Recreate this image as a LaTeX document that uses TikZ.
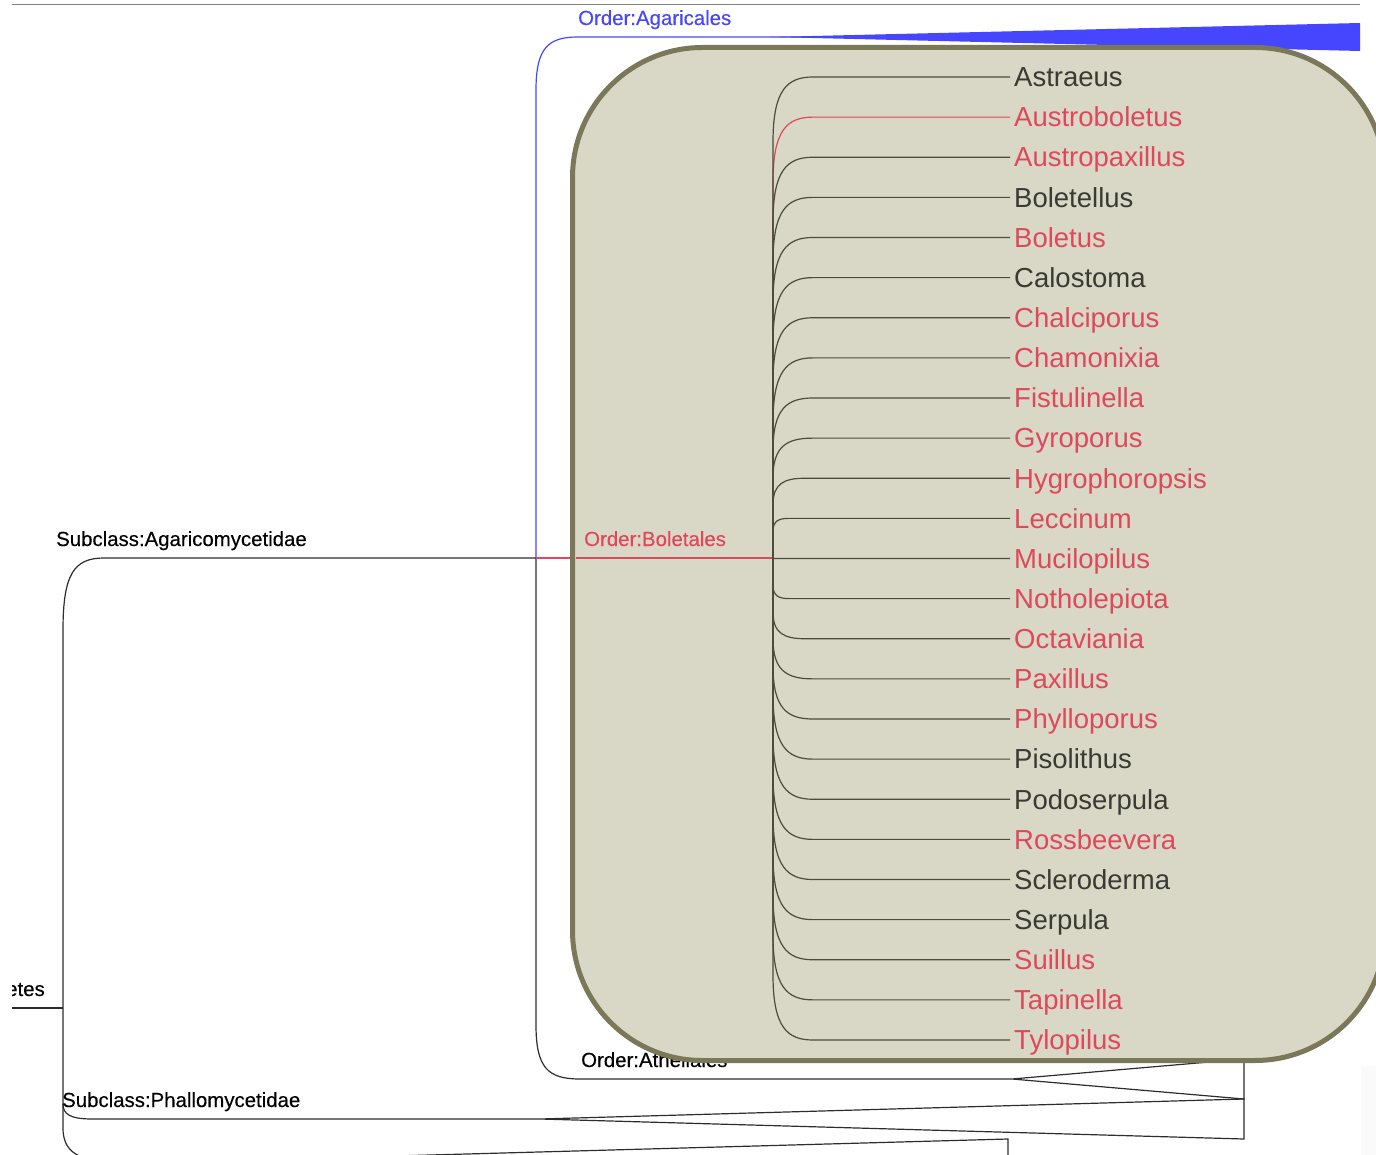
\documentclass[tikz,border=0pt]{standalone}
\usepackage{fontspec}
\setmainfont{Liberation Sans}
\newfontfamily\labfont[FakeBold=0.3]{Liberation Sans}
\usetikzlibrary{calc}
\definecolor{blu}{RGB}{70,70,255}
\definecolor{rd}{RGB}{222,72,90}
\definecolor{dk}{RGB}{58,58,52}
\definecolor{boxfill}{RGB}{217,216,198}
\definecolor{boxline}{RGB}{122,120,88}
\definecolor{ln}{RGB}{45,45,45}
\definecolor{brl}{RGB}{75,75,62}
\definecolor{topgray}{RGB}{130,130,130}
\tikzset{
  outerline/.style={draw=ln, line width=1.2pt},
  brline/.style={draw=brl, line width=1.2pt},
  redline/.style={draw=rd, line width=1.2pt},
  blueline/.style={draw=blu, line width=1.2pt},
  inlabel/.style={inner sep=0pt, anchor=base west, font=\labfont\fontsize{20.4}{24}\selectfont},
  leaflabel/.style={inner xsep=4pt, inner ysep=0pt, anchor=west, text height=19.5pt, text depth=0pt, font=\fontsize{27.5}{30}\selectfont},
  clade/.style={fill=boxfill, draw=boxline, line width=5pt, rounded corners=130pt},
}
\begin{document}
\begin{tikzpicture}[x=1pt,y=-1pt]
\useasboundingbox (0,0) rectangle (1376,1155);
\begin{scope}
\clip (12,0) rectangle (1376,1155);
% faint strip at right
\fill[black!2] (1361,1066) rectangle (1376,1155);
% top line
\draw[topgray, line width=1.5pt] (10,4.5) -- (1360,4.5);

% named junctions
\coordinate (root) at (63,1008);
\coordinate (agjun) at (536,558);
\coordinate (boleroot) at (773,558);
\coordinate (atheapex) at (1012,1079);
\coordinate (phalapex) at (540,1119);
\coordinate (wedgeA) at (1244,1059);
\coordinate (wedgeM) at (1244,1099);
\coordinate (wedgeB) at (1244,1139);
\coordinate (lowapex) at (250,1160);
\coordinate (lowend) at (1008,1139);
\coordinate (agarapex) at (770,37);

% class label (clipped at the left edge, as in the reference)
\node[inlabel, anchor=base east] (classlab) at (45,996) {Class:Agaricomycetes};
\coordinate (classend) at (12,1008);
\draw[outerline] (classend) -- (root);

% root branches
\draw[outerline] (root) -- (63,630) .. controls (63,574) and (74,558) .. (104,558) -- (agjun);
\draw[outerline] (root) -- (63,1104) .. controls (63,1114) and (70,1119) .. (92,1119) -- (phalapex) -- (wedgeM) -- (wedgeB) -- (phalapex);
\draw[outerline] (63,1104) -- (63,1128) .. controls (63,1148) and (74,1160) .. (104,1160) -- (lowapex) -- (lowend) -- (1008,1170);

% Agaricomycetidae subtree
\draw[outerline] (agjun) -- (536,1025) .. controls (536,1068) and (548,1079) .. (580,1079) -- (atheapex) -- (wedgeA) -- (wedgeM) -- (atheapex);
\draw[blueline] (agjun) -- (536,90) .. controls (536,48) and (548,37) .. (578,37) -- (860,37);
\fill[blu] (agarapex) -- (1360,23) -- (1360,51) -- cycle;
\draw[redline] (agjun) -- (580,558);

% labels outside box
\node[inlabel, text=blu] (agarlab) at (578,25) {Order:Agaricales};
\node[inlabel] (subA) at (56,546) {Subclass:Agaricomycetidae};
\node[inlabel] (athel) at (581,1067) {Order:Atheliales};
\node[inlabel] (subP) at (62,1107) {Subclass:Phallomycetidae};

% Boletales box
\draw[clade] (572.5,47.5) rectangle (1385,1060.5);
\draw[redline] (576,558) -- (boleroot);
\node[inlabel, text=rd] (bolelab) at (584,546) {Order:Boletales};

% leaf labels
\foreach \n/\c [count=\i from 0] in {Astraeus/dk, Austroboletus/rd, Austropaxillus/rd, Boletellus/dk, Boletus/rd, Calostoma/dk, Chalciporus/rd, Chamonixia/rd, Fistulinella/rd, Gyroporus/rd, Hygrophoropsis/rd, Leccinum/rd, Mucilopilus/rd, Notholepiota/rd, Octaviania/rd, Paxillus/rd, Phylloporus/rd, Pisolithus/dk, Podoserpula/dk, Rossbeevera/rd, Scleroderma/dk, Serpula/dk, Suillus/rd, Tapinella/rd, Tylopilus/rd}{
  \pgfmathsetmacro\yy{77+40.125*\i}
  \node[leaflabel, text=\c] (leaf\i) at (1010,\yy) {\n};
}

% red branch first
\foreach \i/\st in {1/redline}{
  \pgfmathsetmacro\yy{77+40.125*\i}
  \pgfmathsetmacro\dy{abs(\yy-558)}
  \pgfmathsetmacro\sg{(\yy<558) ? 1 : -1}
  \pgfmathsetmacro\aa{\sg*min(65,0.33*\dy)}
  \pgfmathsetmacro\dd{min(40,0.4*\dy)}
  \draw[\st] (boleroot) -- (773,\yy+\aa) .. controls (773,\yy+0.2*\aa) and (773+0.35*\dd,\yy) .. (773+\dd,\yy) -- (leaf\i.west);
}
% dark branches
\foreach \i in {0,2,3,...,24}{
  \pgfmathsetmacro\yy{77+40.125*\i}
  \pgfmathsetmacro\dy{abs(\yy-558)}
  \pgfmathsetmacro\sg{(\yy<558) ? 1 : -1}
  \pgfmathsetmacro\aa{\sg*min(65,0.33*\dy)}
  \pgfmathsetmacro\dd{min(40,0.4*\dy)}
  \draw[brline] (boleroot) -- (773,\yy+\aa) .. controls (773,\yy+0.2*\aa) and (773+0.35*\dd,\yy) .. (773+\dd,\yy) -- (leaf\i.west);
}
\end{scope}
\end{tikzpicture}
\end{document}
